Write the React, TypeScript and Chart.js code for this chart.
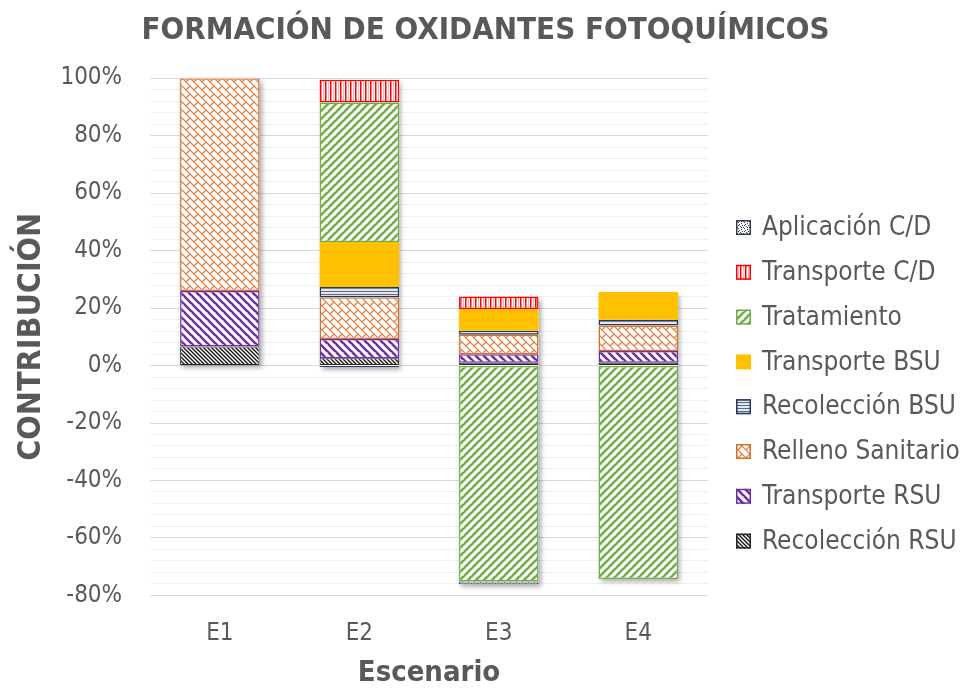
import React, { useEffect, useRef } from "react";
import { Chart, registerables } from "chart.js";

Chart.register(...registerables);

const categories = ["E1", "E2", "E3", "E4"];
const seriesNames = [
  "Recolección RSU",
  "Transporte RSU",
  "Relleno Sanitario",
  "Recolección BSU",
  "Transporte BSU",
  "Tratamiento",
  "Transporte C/D",
  "Aplicación C/D",
];
const recoleccionRSU = [6.6, 2.5, 1.0, 1.0];
const transporteRSU = [19.3, 6.7, 2.9, 4.1];
const rellenoSanitario = [74.1, 14.6, 6.8, 8.8];
const recoleccionBSU = [null, 3.5, 1.4, 2.0];
const transporteBSU = [null, 15.7, 7.6, 9.7];
const tratamiento = [null, 48.5, -75.2, -74.3];
const transporteCD = [null, 8.0, 4.3, null];
const aplicacionCD = [null, -0.5, -0.9, null];
const yMajorTicks = [-80, -60, -40, -20, 0, 20, 40, 60, 80, 100];
const yTickLabels = ["-80%", "-60%", "-40%", "-20%", "0%", "20%", "40%", "60%", "80%", "100%"];

const FONT = '"Liberation Sans Narrow", "Arial Narrow", "DejaVu Sans Condensed", sans-serif';
const TEXT = "#595959";

function tile(size: number, draw: (g: CanvasRenderingContext2D, s: number) => void, bg = "#ffffff") {
  const c = document.createElement("canvas");
  c.width = size;
  c.height = size;
  const g = c.getContext("2d")!;
  g.fillStyle = bg;
  g.fillRect(0, 0, size, size);
  draw(g, size);
  return g.createPattern(c, "repeat")!;
}

function seg(g: CanvasRenderingContext2D, s: number, x1: number, y1: number, x2: number, y2: number) {
  for (const dx of [-s, 0, s]) {
    for (const dy of [-s, 0, s]) {
      g.moveTo(x1 + dx, y1 + dy);
      g.lineTo(x2 + dx, y2 + dy);
    }
  }
}

function diag(g: CanvasRenderingContext2D, s: number, color: string, w: number, up: boolean) {
  g.strokeStyle = color;
  g.lineWidth = w;
  g.beginPath();
  if (up) seg(g, s, 0, s, s, 0);
  else seg(g, s, 0, 0, s, s);
  g.stroke();
}

function makePatterns() {
  const recRSU = tile(4, (g, s) => diag(g, s, "#1A1A1A", 1.4, false));
  const traRSU = tile(8, (g, s) => diag(g, s, "#7030A0", 2.6, false));
  const relleno = tile(8, (g, s) => {
    g.strokeStyle = "#E5742F";
    g.lineWidth = 1.15;
    g.beginPath();
    seg(g, s, 0, 0, s, s);
    seg(g, s, 2, 2, 6, -2);
    g.stroke();
  });
  const recBSU = tile(3, (g) => {
    g.fillStyle = "#5B6B85";
    g.fillRect(0, 0, 3, 1);
  }, "#E4E8EE");
  const tratam = tile(8, (g, s) => diag(g, s, "#70AD47", 2.6, true));
  const traCD = tile(5, (g) => {
    g.fillStyle = "#FF0000";
    g.fillRect(0, 0, 1.5, 5);
    g.fillStyle = "#F9B4B4";
    g.fillRect(3, 0, 1, 5);
  });
  const aplCD = tile(6, (g) => {
    g.fillStyle = "#333F50";
    const dots = [[0, 0], [3, 1], [1, 2], [4, 3], [2, 4], [5, 5], [0, 3], [3, 5]];
    dots.forEach(([x, y]) => g.fillRect(x, y, 1, 1));
  });
  return { recRSU, traRSU, relleno, recBSU, tratam, traCD, aplCD };
}

const shadowPlugin = {
  id: "barShadow",
  beforeDatasetsDraw(chart: any) {
    const ctx = chart.ctx;
    const n = chart.data.labels.length;
    for (let i = 0; i < n; i++) {
      let top = Infinity, bottom = -Infinity, x = 0, w = 0;
      chart.data.datasets.forEach((_: any, di: number) => {
        const meta = chart.getDatasetMeta(di);
        const el = meta.data[i];
        const v = chart.data.datasets[di].data[i];
        if (!el || v === null || v === undefined) return;
        top = Math.min(top, el.y, el.base);
        bottom = Math.max(bottom, el.y, el.base);
        x = el.x;
        w = el.width;
      });
      if (!isFinite(top)) continue;
      ctx.save();
      ctx.shadowColor = "rgba(0,0,0,0.35)";
      ctx.shadowBlur = 5;
      ctx.shadowOffsetX = 2;
      ctx.shadowOffsetY = 3;
      ctx.fillStyle = "#ffffff";
      ctx.fillRect(x - w / 2, top, w, bottom - top);
      ctx.restore();
    }
  },
};

// Legend drawn at the right of the plot, in reverse series order (as in the original)
const sideLegendPlugin = {
  id: "sideLegend",
  afterDraw(chart: any) {
    const ctx = chart.ctx;
    const ds = chart.data.datasets;
    const boxX = chart.chartArea.right + 28;
    const firstY = 227.5;
    const step = 44.8;
    const box = 15;
    ctx.save();
    ctx.font = `26px ${FONT}`;
    ctx.textBaseline = "middle";
    ctx.textAlign = "left";
    for (let k = 0; k < ds.length; k++) {
      const d = ds[ds.length - 1 - k];
      const cy = firstY + k * step;
      ctx.fillStyle = d.backgroundColor;
      ctx.fillRect(boxX, cy - box / 2, box, box);
      if (d.borderWidth > 0) {
        ctx.strokeStyle = d.borderColor;
        ctx.lineWidth = 1.5;
        ctx.strokeRect(boxX + 0.75, cy - box / 2 + 0.75, box - 1.5, box - 1.5);
      }
      ctx.fillStyle = TEXT;
      ctx.fillText(d.label, boxX + box + 11, cy + 1);
    }
    ctx.restore();
  },
};

export default function App() {
  const ref = useRef<HTMLCanvasElement>(null);
  useEffect(() => {
    document.body.style.margin = "0";
    const p = makePatterns();
    const values = [recoleccionRSU, transporteRSU, rellenoSanitario, recoleccionBSU, transporteBSU, tratamiento, transporteCD, aplicacionCD];
    const fills: any[] = [p.recRSU, p.traRSU, p.relleno, p.recBSU, "#FFC000", p.tratam, p.traCD, p.aplCD];
    const borders = ["#262626", "#7030A0", "#D0702A", "#1F3864", "#FFC000", "#70AD47", "#FF0000", "#333F50"];
    const bw = [1, 1.5, 1.5, 1.5, 0, 1.5, 1.5, 1];
    const chart = new Chart(ref.current!, {
      type: "bar",
      data: {
        labels: categories,
        datasets: seriesNames.map((name, i) => ({
          label: name,
          data: values[i] as any,
          backgroundColor: fills[i],
          borderColor: borders[i],
          borderWidth: bw[i],
          borderSkipped: false,
          categoryPercentage: 1,
          barPercentage: 0.57,
        })),
      },
      plugins: [shadowPlugin, sideLegendPlugin],
      options: {
        responsive: false,
        animation: false,
        layout: { padding: { left: 12, right: 10, top: 0, bottom: 0 } },
        plugins: {
          title: {
            display: true,
            text: "FORMACIÓN DE OXIDANTES FOTOQUÍMICOS",
            color: TEXT,
            font: { family: FONT, size: 31, weight: "bold" },
            padding: { top: 12, bottom: 29 },
          },
          legend: { display: false },
          tooltip: { enabled: false },
        },
        scales: {
          x: {
            stacked: true,
            grid: { display: false },
            border: { display: false },
            ticks: { color: TEXT, font: { family: FONT, size: 24 }, padding: 16 },
            title: {
              display: true,
              text: "Escenario",
              color: TEXT,
              font: { family: FONT, size: 29, weight: "bold" },
              padding: { top: -8, bottom: 0 },
            },
          },
          y: {
            stacked: true,
            min: -80,
            max: 100,
            border: { display: false },
            grid: {
              drawTicks: false,
              color: (c: any) => (yMajorTicks.includes(c.tick?.value) ? "#D9D9D9" : "#F0F0F0"),
              lineWidth: 1,
            },
            ticks: {
              stepSize: 4,
              padding: 28,
              autoSkip: false,
              color: TEXT,
              font: { family: FONT, size: 24 },
              callback: (v: any) => {
                const idx = yMajorTicks.indexOf(Number(v));
                return idx >= 0 ? yTickLabels[idx] : "";
              },
            },
            title: {
              display: true,
              text: "CONTRIBUCIÓN",
              color: TEXT,
              font: { family: FONT, size: 32, weight: "bold" },
              padding: { top: 0, bottom: -18 },
            },
          },
          legendSpace: {
            type: "linear",
            position: "right",
            display: true,
            grid: { display: false },
            border: { display: false },
            ticks: { display: false },
            afterFit: (s: any) => {
              s.width = 251;
            },
          },
        },
      },
    });
    return () => chart.destroy();
  }, []);
  return (
    <div style={{ position: "absolute", left: 0, top: 0 }}>
      <canvas ref={ref} width={969} height={691} style={{ display: "block" }} />
    </div>
  );
}
